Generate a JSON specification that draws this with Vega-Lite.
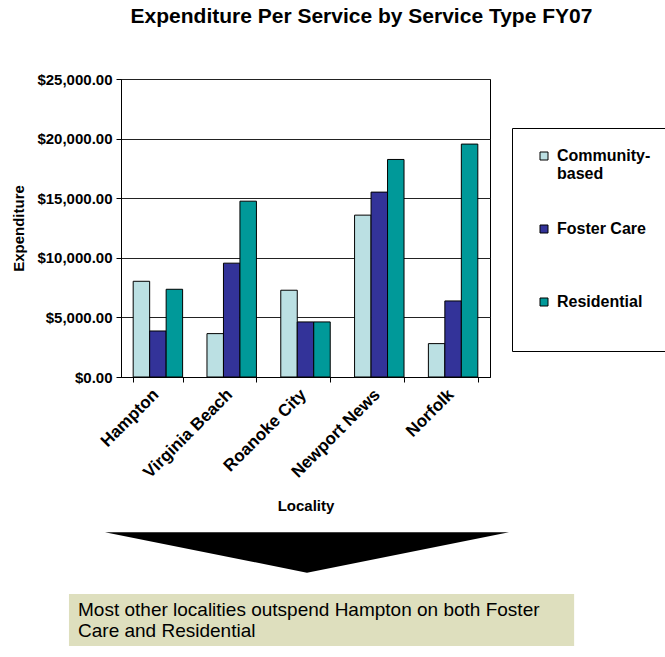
{
  "$schema": "https://vega.github.io/schema/vega-lite/v6.json",
  "autosize": {"type": "pad"},
  "padding": {"left": 11, "top": 5, "right": 0, "bottom": 0},
  "background": "#ffffff",
  "config": {
    "font": "Liberation Sans",
    "concat": {"spacing": 150},
    "axis": {"labelColor": "#000", "titleColor": "#000", "domainColor": "#000", "tickColor": "#000"}
  },
  "title": {
    "text": "Expenditure Per Service by Service Type FY07",
    "font": "Liberation Sans",
    "fontSize": 21,
    "fontWeight": "bold",
    "color": "#000",
    "anchor": "middle",
    "baseline": "bottom",
    "offset": 24,
    "dx": 20
  },
  "bounds": "flush",
  "vconcat": [
    {
      "width": 369,
      "height": 298,
      "view": {"stroke": "#000", "strokeWidth": 1},
      "data": {
        "values": [
          {"Locality": "Hampton", "Type": "Community-based", "Expenditure": 8030},
          {"Locality": "Hampton", "Type": "Foster Care", "Expenditure": 3860},
          {"Locality": "Hampton", "Type": "Residential", "Expenditure": 7360},
          {"Locality": "Virginia Beach", "Type": "Community-based", "Expenditure": 3640},
          {"Locality": "Virginia Beach", "Type": "Foster Care", "Expenditure": 9550},
          {"Locality": "Virginia Beach", "Type": "Residential", "Expenditure": 14750},
          {"Locality": "Roanoke City", "Type": "Community-based", "Expenditure": 7280},
          {"Locality": "Roanoke City", "Type": "Foster Care", "Expenditure": 4620},
          {"Locality": "Roanoke City", "Type": "Residential", "Expenditure": 4620},
          {"Locality": "Newport News", "Type": "Community-based", "Expenditure": 13580},
          {"Locality": "Newport News", "Type": "Foster Care", "Expenditure": 15510},
          {"Locality": "Newport News", "Type": "Residential", "Expenditure": 18250},
          {"Locality": "Norfolk", "Type": "Community-based", "Expenditure": 2800},
          {"Locality": "Norfolk", "Type": "Foster Care", "Expenditure": 6380},
          {"Locality": "Norfolk", "Type": "Residential", "Expenditure": 19540}
        ]
      },
      "mark": {"type": "bar", "stroke": "#000", "strokeWidth": 1},
      "encoding": {
        "x": {
          "field": "Locality",
          "type": "nominal",
          "sort": ["Hampton", "Virginia Beach", "Roanoke City", "Newport News", "Norfolk"],
          "scale": {"paddingInner": 0.33, "paddingOuter": 0.165},
          "axis": {
            "title": "Locality",
            "titleFontSize": 15,
            "titleFontWeight": "bold",
            "titlePadding": 18,
            "labelAngle": -45,
            "labelFontSize": 17,
            "labelFontWeight": "bold",
            "labelPadding": 4,
            "labelOffset": -8,
            "tickBand": "extent",
            "tickSize": 5,
            "domainWidth": 1
          }
        },
        "xOffset": {
          "field": "Type",
          "type": "nominal",
          "sort": ["Community-based", "Foster Care", "Residential"]
        },
        "y": {
          "field": "Expenditure",
          "type": "quantitative",
          "scale": {"domain": [0, 25000], "nice": false},
          "axis": {
            "title": "Expenditure",
            "titleFontSize": 15,
            "titleFontWeight": "bold",
            "titlePadding": 10,
            "values": [0, 5000, 10000, 15000, 20000, 25000],
            "format": "$,.2f",
            "labelFontSize": 15,
            "labelFontWeight": "bold",
            "labelPadding": 4,
            "tickSize": 5,
            "grid": true,
            "gridColor": "#222",
            "gridOpacity": 1,
            "gridWidth": 1
          }
        },
        "color": {
          "field": "Type",
          "type": "nominal",
          "scale": {
            "domain": ["Community-based", "Foster Care", "Residential"],
            "range": ["#BBE0E3", "#333399", "#009999"]
          },
          "legend": {
            "orient": "none",
            "legendX": 391,
            "legendY": 49,
            "padding": 20,
            "rowPadding": 39,
            "symbolType": "square",
            "symbolSize": 64,
            "symbolStrokeColor": "#000",
            "symbolStrokeWidth": 1,
            "symbolOffset": 4,
            "labelFontSize": 16,
            "labelFontWeight": "bold",
            "labelColor": "#000",
            "labelOffset": 5,
            "labelExpr": "datum.label == 'Community-based' ? ['Community-', 'based'] : [datum.label, ' ']",
            "strokeColor": "#000",
            "fillColor": "#fff",
            "title": " ",
            "titleOrient": "bottom",
            "titleFontSize": 1,
            "titlePadding": 2
          }
        }
      }
    },
    {
      "width": 369,
      "height": 125,
      "view": {"stroke": null},
      "data": {"values": [{"note": "Most other localities outspend Hampton on both Foster\nCare and Residential"}]},
      "layer": [
        {
          "mark": {"type": "rect", "fill": "#DEDFBE"},
          "encoding": {
            "x": {"datum": -14.1, "type": "quantitative", "scale": {"domain": [0, 100], "nice": false, "zero": false}, "axis": null},
            "x2": {"datum": 122.8},
            "y": {"datum": 46.4, "type": "quantitative", "scale": {"domain": [0, 100], "nice": false, "zero": false}, "axis": null},
            "y2": {"datum": 4.8}
          }
        },
        {
          "mark": {"type": "point", "shape": "M-1,-0.1L1,-0.1L0,0.1Z", "filled": true, "color": "#000", "opacity": 1, "size": 163216},
          "encoding": {
            "x": {"datum": 50.4, "type": "quantitative"},
            "y": {"datum": 79.6, "type": "quantitative"}
          }
        },
        {
          "mark": {"type": "text", "align": "left", "baseline": "top", "fontSize": 19, "font": "Liberation Sans", "color": "#000", "lineBreak": "\n", "lineHeight": 21},
          "encoding": {
            "x": {"datum": -11.65, "type": "quantitative"},
            "y": {"datum": 40.8, "type": "quantitative"},
            "text": {"field": "note"}
          }
        }
      ]
    }
  ]
}
